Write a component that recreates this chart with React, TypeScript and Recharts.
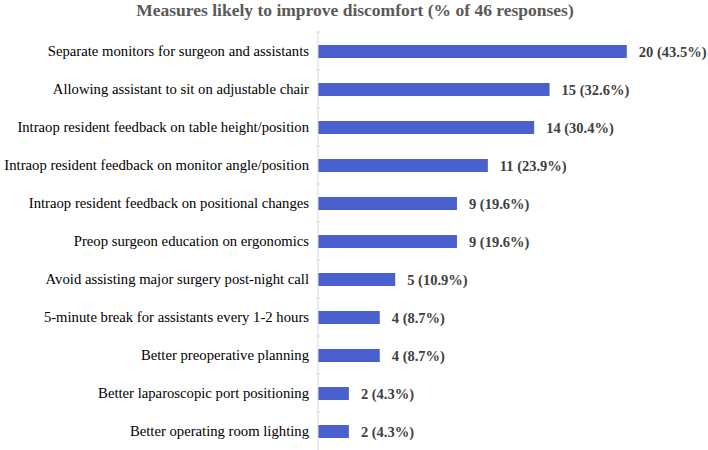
import React from "react";
import { BarChart, Bar, XAxis, YAxis, LabelList } from "recharts";

const categories = [
  "Separate monitors for surgeon and assistants",
  "Allowing assistant to sit on adjustable chair",
  "Intraop resident feedback on table height/position",
  "Intraop resident feedback on monitor angle/position",
  "Intraop resident feedback on positional changes",
  "Preop surgeon education on ergonomics",
  "Avoid assisting major surgery post-night call",
  "5-minute break for assistants every 1-2 hours",
  "Better preoperative planning",
  "Better laparoscopic port positioning",
  "Better operating room lighting",
];
const counts = [20, 15, 14, 11, 9, 9, 5, 4, 4, 2, 2];
const percents = ["43.5", "32.6", "30.4", "23.9", "19.6", "19.6", "10.9", "8.7", "8.7", "4.3", "4.3"];

const data = categories.map((name, i) => ({
  name,
  value: counts[i],
  label: `${counts[i]} (${percents[i]}%)`,
}));

const BAND = 38;
const SERIF = "'Liberation Serif', 'Times New Roman', serif";

const CategoryTick = (props: any) => {
  const { x, y, payload } = props;
  return (
    <g>
      <line x1={x + 8} x2={x + 4} y1={y - BAND / 2} y2={y - BAND / 2} stroke="#d9d9d9" />
      <text x={x - 3} y={y} dy={5} textAnchor="end" fontFamily={SERIF} fontSize={14.7} fill="#000">
        {payload.value}
      </text>
    </g>
  );
};

const ValueLabel = (props: any) => {
  const { x, y, width, height, value } = props;
  return (
    <text
      x={x + width + 12}
      y={y + height / 2}
      dy={5}
      textAnchor="start"
      fontFamily={SERIF}
      fontSize={14.5}
      fontWeight="bold"
      fill="#404040"
    >
      {value}
    </text>
  );
};

export default function App() {
  return (
    <div style={{ position: "absolute", left: 0, top: 0, width: 708, height: 450, background: "#fff" }}>
      <BarChart
        width={708}
        height={450}
        data={data}
        layout="vertical"
        margin={{ top: 32, right: 4, bottom: 0, left: 0 }}
        barCategoryGap={0}
      >
        <text
          x={355}
          y={16}
          textAnchor="middle"
          fontFamily={SERIF}
          fontSize={17.5}
          fontWeight="bold"
          fill="#595959"
        >
          Measures likely to improve discomfort (% of 46 responses)
        </text>
        <XAxis type="number" domain={[0, 25]} hide />
        <YAxis
          type="category"
          dataKey="name"
          width={318}
          axisLine={{ stroke: "#d9d9d9" }}
          tickLine={false}
          tick={<CategoryTick />}
          interval={0}
          tickMargin={0}
        />
        <Bar dataKey="value" fill="#4a60cf" barSize={13} isAnimationActive={false}>
          <LabelList dataKey="label" content={<ValueLabel />} />
        </Bar>
      </BarChart>
    </div>
  );
}
